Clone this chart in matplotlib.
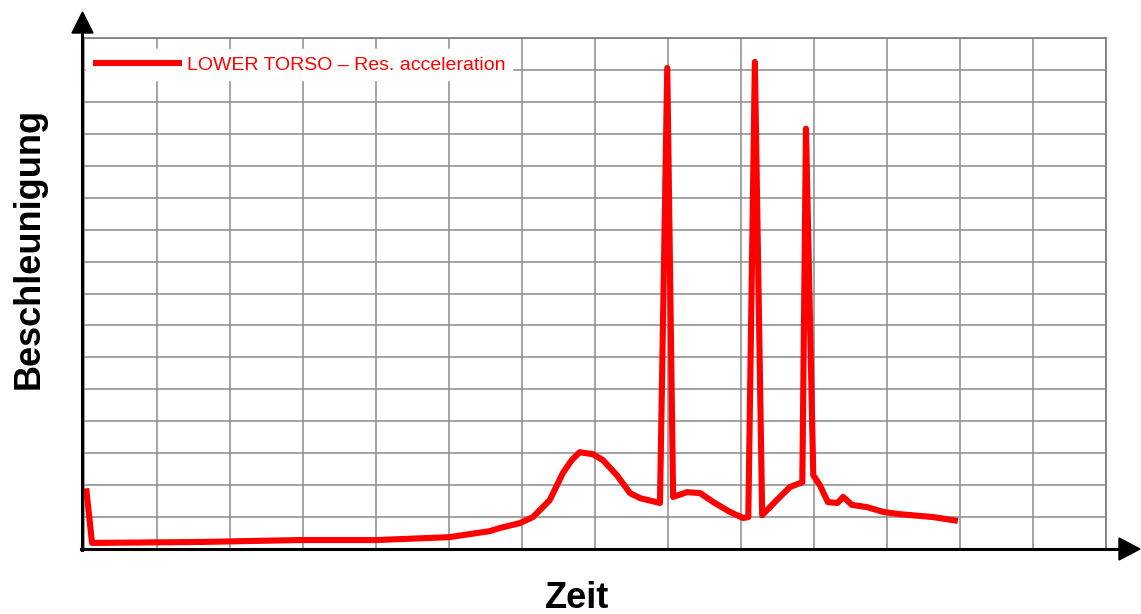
import matplotlib
matplotlib.use("Agg")
import matplotlib.pyplot as plt
from matplotlib.lines import Line2D
from matplotlib.patches import Polygon

# time (grid columns) and acceleration (grid rows)
zeit = [0.03, 0.11, 1.59, 2.96, 4.0, 5.0, 5.56, 5.70, 5.97, 6.15, 6.38, 6.56,
        6.68, 6.79, 6.97, 7.11, 7.30, 7.48, 7.62, 7.89, 7.99, 8.07, 8.26, 8.44,
        8.62, 8.85, 9.03, 9.10, 9.19, 9.29, 9.49, 9.67, 9.84, 9.89, 9.99,
        10.08, 10.19, 10.32, 10.40, 10.52, 10.73, 10.95, 11.18, 11.63, 11.97]
beschl = [1.9, 0.19, 0.22, 0.28, 0.28, 0.37, 0.56, 0.66, 0.81, 1.0, 1.53, 2.38,
          2.78, 3.03, 2.97, 2.78, 2.31, 1.75, 1.59, 1.44, 15.06, 1.63, 1.78,
          1.75, 1.47, 1.16, 0.97, 1.0, 15.25, 1.06, 1.53, 1.94, 2.09, 13.16,
          2.31, 2.0, 1.47, 1.44, 1.63, 1.38, 1.31, 1.16, 1.09, 1.0, 0.88]

label = "LOWER TORSO \u2013 Res. acceleration"

W, H = 1141, 614
fig = plt.figure(figsize=(W / 100, H / 100), dpi=100)
ax = fig.add_axes([84 / W, 1 - 549 / H, (1106 - 84) / W, (549 - 38) / H])

ax.plot(zeit, beschl, color="#ff0000", lw=4.4, solid_joinstyle="round",
        solid_capstyle="butt", label=label, zorder=3)

ax.set_xlim(0, 14)
ax.set_ylim(0, 16)
ax.set_xticks(range(15))
ax.set_yticks(range(17))
ax.grid(True, color="#8a8a8a", lw=1.1)
ax.tick_params(length=0, labelbottom=False, labelleft=False)
for s in ["top", "right"]:
    ax.spines[s].set_color("#7a7a7a")
    ax.spines[s].set_linewidth(1.2)
ax.spines["left"].set_visible(False)
ax.spines["bottom"].set_visible(False)

leg = ax.legend(loc="upper left", bbox_to_anchor=(0.0, 0.982), frameon=True,
                fancybox=False, framealpha=1, facecolor="white",
                edgecolor="white", handlelength=4.6, handletextpad=0.25,
                borderpad=0.35, borderaxespad=0.1,
                prop={"family": "Liberation Sans", "size": 14})
for t in leg.get_texts():
    t.set_color("#ff0000")

# axis arrows
def px(x, y):
    return x / W, 1 - y / H

fig.add_artist(Line2D(*zip(px(82, 550), px(82, 28)), color="black", lw=2.2,
                      transform=fig.transFigure))
fig.add_artist(Polygon([px(72, 33), px(93, 33), px(82.5, 12)], closed=True,
                       color="black", transform=fig.transFigure))
fig.add_artist(Line2D(*zip(px(81, 549), px(1122, 549)), color="black", lw=2.2,
                      transform=fig.transFigure))
fig.add_artist(Polygon([px(1119, 538), px(1119, 560), px(1140, 549)],
                       closed=True, color="black", transform=fig.transFigure))

fig.text(29 / W, 1 - 248 / H, "Beschleunigung", rotation=90, ha="center",
         va="center", fontsize=26, fontweight="bold", family="Liberation Sans")
fig.text(577 / W, 1 - 598 / H, "Zeit", ha="center", va="center",
         fontsize=26, fontweight="bold", family="Liberation Sans")

fig.savefig("out.png", dpi=100)
